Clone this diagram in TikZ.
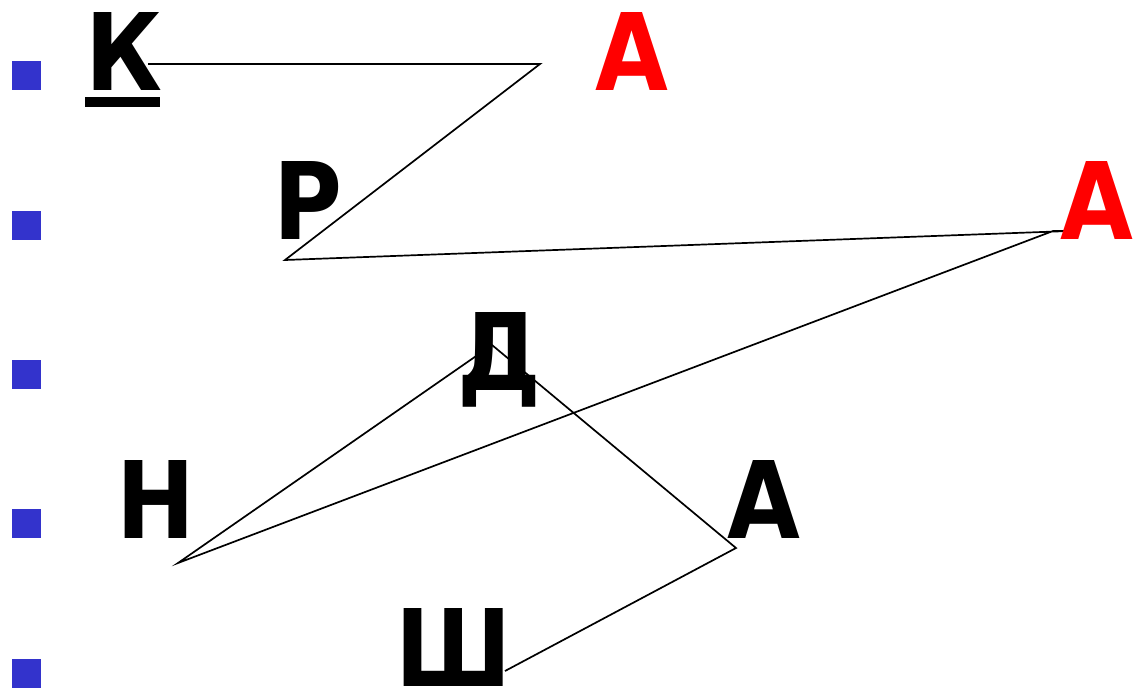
\documentclass[tikz,border=0pt]{standalone}
\usepackage{fontspec}
\setmainfont{DejaVu Sans}[BoldFeatures={FakeStretch=0.88}]
\definecolor{bulletblue}{HTML}{3333CC}
\definecolor{letterred}{HTML}{FF0000}
\begin{document}
\begin{tikzpicture}[x=1pt,y=-1pt,
  letter/.style={inner sep=0pt, anchor=base, font=\fontsize{107}{107}\selectfont\bfseries},
  bullet/.style={fill=bulletblue, draw=none, minimum size=29pt, inner sep=0pt},
  link/.style={line width=1.7pt, line join=miter}]
\useasboundingbox (0,0) rectangle (1133,688);
% bullets
\node[bullet] (b1) at (26.5,75) {};
\node[bullet] (b2) at (26.5,225) {};
\node[bullet] (b3) at (26.5,374) {};
\node[bullet] (b4) at (26.5,523) {};
\node[bullet] (b5) at (26.5,673) {};
% route
\coordinate (p1) at (148,64);
\coordinate (p2) at (540,64);
\coordinate (p3) at (285,260);
\coordinate (p4) at (1069,231);
\coordinate (p5) at (1053,231);
\coordinate (p6) at (178,563);
\coordinate (p7) at (492,345);
\coordinate (p8) at (736,548);
\coordinate (p9) at (505,671);
\draw[link] (p1) -- (p2) -- (p3) -- (p4) -- (p5) -- (p6) -- (p7) -- (p8) -- (p9);
% letters
\node[letter] (k) at (124,90) {К};
\fill (85,97) rectangle (160,107);
\node[letter, text=letterred] (a1) at (632,90) {А};
\node[letter] (r) at (308,239) {Р};
\node[letter, text=letterred] (a2) at (1097,239) {А};
\node[letter] (d) at (499,390) {Д};
\node[letter] (n) at (156,538) {Н};
\node[letter] (a3) at (764,538) {А};
\node[letter] (sh) at (454,686) {Ш};
\end{tikzpicture}
\end{document}
